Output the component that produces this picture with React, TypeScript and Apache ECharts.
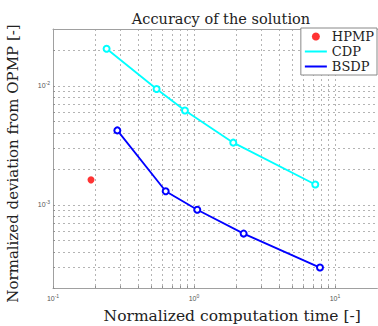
import React, { useEffect, useRef } from "react";
import * as echarts from "echarts";

const titleText = "Accuracy of the solution";
const xName = "Normalized computation time [-]";
const yName = "Normalized deviation from OPMP [-]";

const hpmpX = [0.186];
const hpmpY = [0.00162];

const cdpX = [0.24, 0.543, 0.863, 1.9, 7.25];
const cdpY = [0.0205, 0.00939, 0.0062, 0.00333, 0.00148];

const bsdpX = [0.286, 0.63, 1.055, 2.25, 7.83];
const bsdpY = [0.00422, 0.0013, 0.000909, 0.000573, 0.000297];

const xTickValues = [0.1, 1, 10];
const yTickValues = [0.001, 0.01];

const xGridValues = [0.1, 0.2, 0.3, 0.4, 0.5, 0.6, 0.7, 0.8, 0.9, 1, 2, 3, 4, 5, 6, 7, 8, 9, 10];
const yGridValues = [
  0.0002, 0.0003, 0.0004, 0.0005, 0.0006, 0.0007, 0.0008, 0.0009, 0.001,
  0.002, 0.003, 0.004, 0.005, 0.006, 0.007, 0.008, 0.009, 0.01, 0.02,
];

const xMin = 0.1;
const xMax = 20;
const yMin = 0.0002;
const yMax = 0.03;

const wideSerif = "'DejaVu Serif', 'Liberation Serif', serif";

function zip(xs: number[], ys: number[]) {
  return xs.map((x, i) => [x, ys[i]]);
}

function powLabel(v: number) {
  const e = Math.round(Math.log10(v));
  return "{b|10}{s|" + e + "}";
}

const tickRich = {
  b: { fontSize: 7, color: "#555", fontFamily: "Liberation Sans, Arial, sans-serif" },
  s: { fontSize: 5, color: "#555", fontFamily: "Liberation Sans, Arial, sans-serif", padding: [0, 0, 5, 0] },
};

export default function App() {
  const ref = useRef<HTMLDivElement>(null);
  useEffect(() => {
    if (!ref.current) return;
    const chart = echarts.init(ref.current, undefined, { renderer: "svg" });
    const gridStyle = { type: [2, 3] as any, color: "#b4b4b4", width: 1 };
    const option = {
      animation: false,
      backgroundColor: "#ffffff",
      title: {
        text: titleText,
        left: 216,
        textAlign: "center",
        top: 6,
        textStyle: { fontFamily: wideSerif, fontSize: 14.5, fontWeight: "normal", color: "#222" },
      },
      grid: { left: 53, top: 29, right: 0.6, bottom: 38, containLabel: false, outerBoundsMode: "none" },
      legend: {
        orient: "vertical",
        right: 1,
        top: 28,
        backgroundColor: "#ffffff",
        borderColor: "#888",
        borderWidth: 1,
        padding: [2, 3, 2, 3],
        itemGap: 2,
        itemWidth: 22,
        itemHeight: 8,
        textStyle: { fontFamily: wideSerif, fontSize: 13, color: "#222" },
        data: [
          { name: "HPMP", icon: "circle" },
          { name: "CDP", itemStyle: { opacity: 0 } },
          { name: "BSDP", itemStyle: { opacity: 0 } },
        ],
      },
      xAxis: [
        {
          type: "log",
          logBase: 10,
          min: xMin,
          max: xMax,
          name: xName,
          nameLocation: "middle",
          nameGap: 20,
          nameTextStyle: { fontFamily: wideSerif, fontSize: 15.5, color: "#222", padding: [0, 0, 0, 34] },
          axisLine: { show: true, lineStyle: { color: "#a0a0a0", width: 1 } },
          axisTick: { show: true, inside: true, length: 2, lineStyle: { color: "#909090" }, customValues: xGridValues },
          axisLabel: { show: true, margin: 5, formatter: powLabel, rich: tickRich, customValues: xTickValues },
          splitLine: { show: true, lineStyle: gridStyle },
        },
        {
          type: "log",
          logBase: 10,
          min: xMin,
          max: xMax,
          position: "top",
          axisLine: { show: true, lineStyle: { color: "#a0a0a0", width: 1 } },
          axisTick: { show: false },
          axisLabel: { show: false },
          splitLine: { show: false },
        },
      ],
      yAxis: {
        type: "log",
        logBase: 10,
        min: yMin,
        max: yMax,
        name: yName,
        nameLocation: "middle",
        nameGap: 33,
        nameTextStyle: { fontFamily: wideSerif, fontSize: 15, color: "#222", padding: [0, 10, 0, 0] },
        axisLine: { show: true, lineStyle: { color: "#a0a0a0", width: 1 } },
        axisTick: { show: true, inside: true, length: 2, lineStyle: { color: "#909090" }, customValues: yGridValues },
        axisLabel: { show: true, margin: 3, formatter: powLabel, rich: tickRich, customValues: yTickValues },
        splitLine: { show: true, lineStyle: gridStyle },
      },
      series: [
        {
          name: "HPMP",
          type: "scatter",
          z: 3,
          data: zip(hpmpX, hpmpY),
          symbol: "circle",
          symbolSize: 7,
          itemStyle: { color: "#ff0000" },
        },
        {
          name: "CDP",
          type: "line",
          z: 3,
          data: zip(cdpX, cdpY),
          symbol: "emptyCircle",
          symbolSize: 6,
          showSymbol: true,
          lineStyle: { color: "#00ffff", width: 1.8 },
          itemStyle: { color: "#00ffff", borderColor: "#00ffff", borderWidth: 1.3 },
        },
        {
          name: "BSDP",
          type: "line",
          z: 3,
          data: zip(bsdpX, bsdpY),
          symbol: "emptyCircle",
          symbolSize: 6,
          showSymbol: true,
          lineStyle: { color: "#0000ff", width: 1.8 },
          itemStyle: { color: "#0000ff", borderColor: "#0000ff", borderWidth: 1.3 },
        },
      ],
    };
    chart.setOption(option as any);
    return () => chart.dispose();
  }, []);
  return (
    <div
      ref={ref}
      style={{ position: "fixed", left: 0, top: 0, width: 378, height: 326, background: "#fff" }}
    />
  );
}
